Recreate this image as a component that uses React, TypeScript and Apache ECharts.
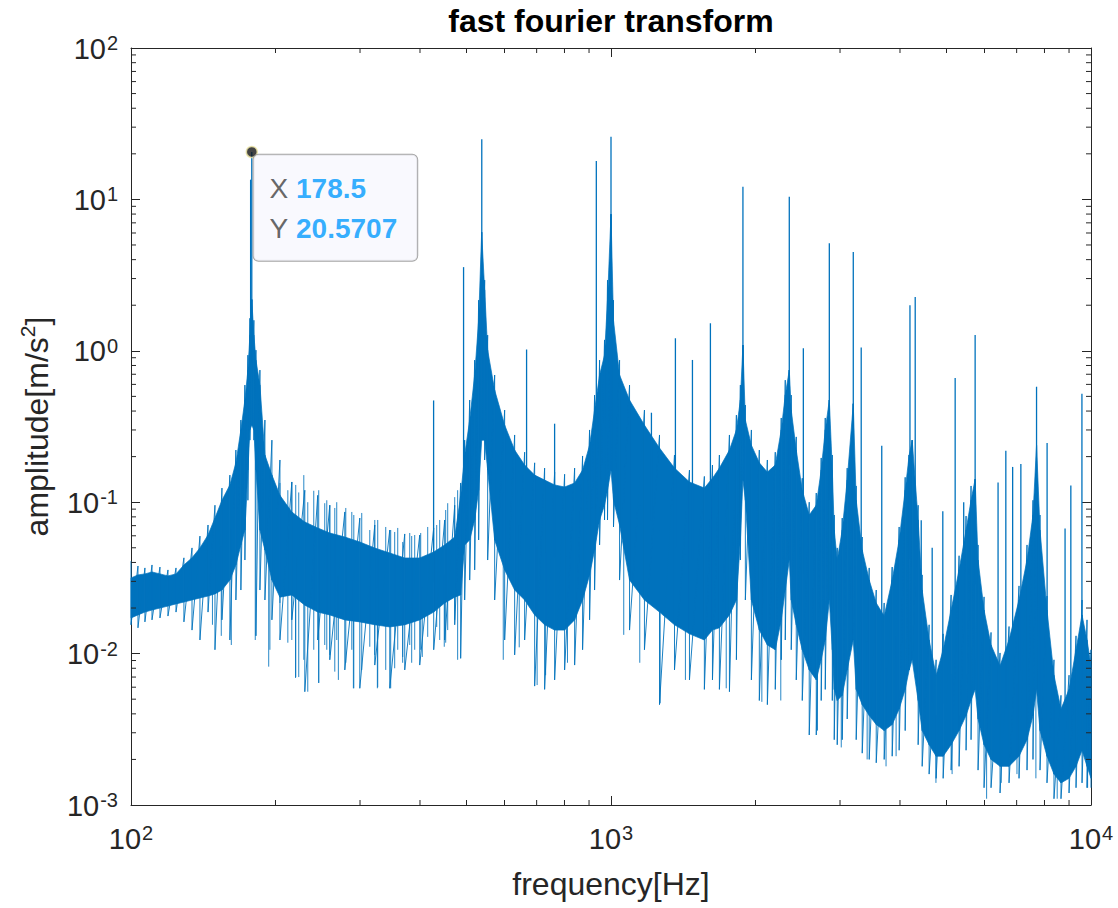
import React, { useEffect, useRef } from "react";
import * as echarts from "echarts";

// ---- data ----
// dense core of the spectrum: frequency [Hz], upper / lower edge of the solid band [m/s^2]
const bandFreq = [100, 103.4, 106.9, 110.6, 114.9, 119.4, 124.1, 128.9, 134.0, 139.2, 144.7, 149.6, 154.7, 160.7, 165.4, 169.4, 172.7, 175.2, 176.9, 178.5, 180.3, 182.1, 185.6, 190.1, 196.6, 204.3, 216.3, 230.2, 244.9, 259.5, 278.9, 299.7, 322.0, 346.0, 371.8, 399.5, 427.2, 450.3, 472.5, 486.2, 495.6, 507.7, 520.0, 530.0, 537.7, 545.5, 553.4, 572.3, 600.4, 629.9, 660.8, 693.3, 727.3, 763.1, 800.5, 839.9, 872.6, 902.4, 924.3, 946.7, 969.4, 983.4, 1000, 1012, 1042, 1093, 1174, 1262, 1356, 1457, 1565, 1627, 1682, 1765, 1825, 1860, 1883, 1905, 1961, 2037, 2117, 2199, 2263, 2307, 2352, 2374, 2432, 2503, 2588, 2677, 2741, 2795, 2850, 2891, 2918, 2960, 3032, 3105, 3197, 3242, 3337, 3451, 3569, 3708, 3853, 3984, 4101, 4180, 4241, 4364, 4449, 4600, 4757, 4920, 5112, 5311, 5492, 5625, 5736, 5817, 5987, 6191, 6464, 6749, 7080, 7357, 7571, 7701, 7830, 8097, 8373, 8659, 9000, 9307, 9579, 9811, 10000];
const bandTop = [0.0316, 0.0331, 0.0336, 0.0346, 0.0336, 0.0326, 0.0336, 0.0385, 0.0429, 0.0499, 0.0607, 0.0786, 0.103, 0.130, 0.182, 0.300, 0.473, 0.746, 1.27, 2.18, 1.27, 0.868, 0.594, 0.205, 0.151, 0.111, 0.0862, 0.0740, 0.0676, 0.0626, 0.0589, 0.0546, 0.0498, 0.0462, 0.0428, 0.0428, 0.0469, 0.0522, 0.0589, 0.110, 0.205, 0.349, 0.692, 1.59, 6.07, 2.52, 1.01, 0.550, 0.323, 0.221, 0.176, 0.151, 0.140, 0.130, 0.126, 0.134, 0.163, 0.238, 0.406, 0.692, 0.936, 2.16, 7.98, 1.59, 0.692, 0.473, 0.323, 0.228, 0.168, 0.136, 0.124, 0.144, 0.168, 0.221, 0.300, 0.473, 1.09, 0.349, 0.238, 0.182, 0.158, 0.176, 0.300, 0.510, 0.746, 0.406, 0.221, 0.120, 0.0823, 0.0955, 0.163, 0.300, 0.473, 0.163, 0.0655, 0.0415, 0.0655, 0.140, 0.447, 0.103, 0.0484, 0.0306, 0.0216, 0.0177, 0.0306, 0.0563, 0.120, 0.205, 0.257, 0.0763, 0.0263, 0.0123, 0.0072, 0.0106, 0.0194, 0.0357, 0.0655, 0.103, 0.142, 0.0415, 0.0194, 0.0114, 0.0083, 0.0123, 0.0226, 0.0415, 0.0823, 0.238, 0.0655, 0.0194, 0.0072, 0.0043, 0.0058, 0.0106, 0.0180, 0.0123, 0.0083];
const bandBottom = [0.0172, 0.0180, 0.0188, 0.0194, 0.0200, 0.0206, 0.0213, 0.0219, 0.0226, 0.0233, 0.0240, 0.0248, 0.0263, 0.0306, 0.0385, 0.0522, 0.0655, 0.163, 0.300, 0.323, 0.300, 0.163, 0.0655, 0.0484, 0.0306, 0.0236, 0.0244, 0.0209, 0.0188, 0.0180, 0.0167, 0.0162, 0.0155, 0.0150, 0.0155, 0.0167, 0.0188, 0.0216, 0.0236, 0.0244, 0.0522, 0.0563, 0.0763, 0.120, 0.257, 0.257, 0.163, 0.0563, 0.0357, 0.0263, 0.0226, 0.0180, 0.0155, 0.0143, 0.0143, 0.0167, 0.0226, 0.0331, 0.0484, 0.0763, 0.0955, 0.120, 0.163, 0.103, 0.0707, 0.0306, 0.0226, 0.0188, 0.0155, 0.0135, 0.0123, 0.0143, 0.0148, 0.0180, 0.0226, 0.0563, 0.140, 0.103, 0.0226, 0.0143, 0.0114, 0.0106, 0.0167, 0.0263, 0.0415, 0.0226, 0.0155, 0.0106, 0.0078, 0.0067, 0.0091, 0.0123, 0.0226, 0.0106, 0.0058, 0.0049, 0.0053, 0.0078, 0.0123, 0.0058, 0.0046, 0.0039, 0.0034, 0.0031, 0.0034, 0.0043, 0.0058, 0.0078, 0.0091, 0.0049, 0.0031, 0.0025, 0.0021, 0.0021, 0.0025, 0.0031, 0.0039, 0.0049, 0.0058, 0.0037, 0.0025, 0.0020, 0.0018, 0.0018, 0.0021, 0.0027, 0.0039, 0.0058, 0.0031, 0.0021, 0.0016, 0.0014, 0.0015, 0.0018, 0.0023, 0.0018, 0.0015];
// extremes of the noisy trace at the same frequencies (upper tips / lower tips)
const traceHigh = [0.0408, 0.0379, 0.0368, 0.0385, 0.0373, 0.0357, 0.0368, 0.0429, 0.0499, 0.0597, 0.0707, 0.0955, 0.124, 0.151, 0.221, 0.349, 0.594, 0.936, 1.64, 2.18, 1.59, 1.01, 0.746, 0.349, 0.257, 0.190, 0.136, 0.120, 0.111, 0.0955, 0.0862, 0.0786, 0.0707, 0.0655, 0.0617, 0.0607, 0.0676, 0.0763, 0.0955, 0.134, 0.257, 0.473, 0.868, 2.16, 6.07, 2.93, 1.27, 0.692, 0.406, 0.278, 0.214, 0.182, 0.168, 0.158, 0.153, 0.168, 0.202, 0.300, 0.510, 0.868, 1.18, 2.93, 7.98, 2.16, 0.868, 0.594, 0.406, 0.278, 0.205, 0.163, 0.148, 0.176, 0.205, 0.278, 0.376, 0.594, 1.09, 0.438, 0.300, 0.221, 0.190, 0.214, 0.360, 0.640, 0.746, 0.510, 0.270, 0.144, 0.100, 0.115, 0.196, 0.360, 0.473, 0.205, 0.0823, 0.0499, 0.0786, 0.168, 0.447, 0.128, 0.0589, 0.0368, 0.0263, 0.0216, 0.0373, 0.0686, 0.146, 0.205, 0.257, 0.0955, 0.0331, 0.0155, 0.0091, 0.0135, 0.0244, 0.0443, 0.0810, 0.128, 0.142, 0.0522, 0.0237, 0.0138, 0.0101, 0.0151, 0.0280, 0.0522, 0.103, 0.238, 0.0823, 0.0240, 0.0091, 0.0053, 0.0072, 0.0131, 0.0226, 0.0167, 0.0106];
const traceLow = [0.0155, 0.0148, 0.0162, 0.0167, 0.0172, 0.0177, 0.0188, 0.0162, 0.0143, 0.0123, 0.0188, 0.0106, 0.0167, 0.0123, 0.0226, 0.0263, 0.0415, 0.103, 0.257, 0.323, 0.257, 0.0131, 0.0263, 0.0226, 0.0167, 0.0123, 0.0167, 0.0056, 0.0123, 0.0091, 0.0078, 0.0059, 0.0084, 0.0059, 0.0078, 0.0084, 0.0106, 0.0123, 0.0155, 0.0093, 0.0226, 0.0306, 0.0357, 0.0563, 0.257, 0.190, 0.0415, 0.0226, 0.0123, 0.0098, 0.0123, 0.0061, 0.0058, 0.0067, 0.0078, 0.0084, 0.0106, 0.0167, 0.0263, 0.0522, 0.0763, 0.0763, 0.163, 0.0686, 0.0306, 0.0143, 0.0106, 0.0046, 0.0078, 0.0067, 0.0058, 0.0067, 0.0058, 0.0056, 0.0091, 0.0415, 0.140, 0.0226, 0.0067, 0.0049, 0.0046, 0.0058, 0.0091, 0.0123, 0.0415, 0.0106, 0.0067, 0.0049, 0.0029, 0.0029, 0.0049, 0.0058, 0.0226, 0.0049, 0.0027, 0.0025, 0.0027, 0.0037, 0.0123, 0.0027, 0.0022, 0.0020, 0.0019, 0.0020, 0.0021, 0.0023, 0.0031, 0.0078, 0.0091, 0.0025, 0.0018, 0.0016, 0.0015, 0.0015, 0.0017, 0.0018, 0.0023, 0.0027, 0.0058, 0.0017, 0.0013, 0.0013, 0.0012, 0.0014, 0.0015, 0.0017, 0.0020, 0.0058, 0.0017, 0.0014, 0.0011, 0.0011, 0.0012, 0.0013, 0.0014, 0.0013, 0.0013];
// individual noise strokes in the 190-480 Hz trough: frequency, upper tip, lower tip
const hairFreq = [194.7, 204.3, 212.2, 216.3, 220.4, 223.6, 229.1, 233.5, 240.3, 246.1, 253.3, 255.8, 259.5, 265.8, 268.3, 280.2, 288.4, 291.2, 302.5, 314.4, 322.0, 326.6, 339.4, 347.6, 354.3, 359.5, 368.2, 380.8, 384.4, 390.0, 401.4, 415.1, 433.4, 439.7, 452.5, 456.9, 472.5, 479.2];
const hairHigh = [0.156, 0.134, 0.120, 0.136, 0.130, 0.116, 0.151, 0.100, 0.119, 0.120, 0.0985, 0.103, 0.0955, 0.0916, 0.100, 0.0916, 0.0862, 0.0823, 0.0849, 0.0655, 0.0763, 0.0763, 0.0686, 0.0655, 0.0636, 0.0676, 0.0546, 0.0626, 0.0598, 0.0607, 0.0626, 0.0686, 0.0707, 0.0763, 0.0888, 0.0985, 0.108, 0.120];
const hairLow = [0.0106, 0.0216, 0.0118, 0.0123, 0.0070, 0.0070, 0.0091, 0.0056, 0.0106, 0.0064, 0.0114, 0.0106, 0.0098, 0.0076, 0.0123, 0.0087, 0.0106, 0.0059, 0.0078, 0.0111, 0.0098, 0.0060, 0.0078, 0.0059, 0.0080, 0.0106, 0.0095, 0.0114, 0.0087, 0.0106, 0.0106, 0.0129, 0.0150, 0.0123, 0.0118, 0.0143, 0.0167, 0.0091];
// narrow spectral lines rising above the band
const spikeFreq = [177.5, 178.5, 427, 493, 538, 667, 763, 932, 1000, 1214, 1362, 1478, 1611, 1883, 2352, 2516, 2850, 3197, 3321, 3665, 4196, 4303, 4429, 4668, 4912, 5212, 5430, 5736, 6403, 6646, 6867, 7143, 7701, 8101, 8830, 9078, 9574];
const spikeAmp = [13.5, 20.5707, 0.47, 3.57, 25.0, 1.02, 0.33, 17.9, 25.9, 0.39, 1.21, 0.87, 1.52, 12.1, 10.4, 1.04, 5.14, 4.50, 1.05, 0.236, 2.00, 2.27, 0.076, 0.050, 0.087, 0.66, 0.100, 1.27, 0.135, 0.219, 0.171, 0.179, 0.579, 0.246, 0.067, 0.129, 0.52];
// deep single dips below the band
const dipFreq = [147.8, 154.2, 161.8, 181.5, 193.6, 220.2, 246.1, 270.4, 290.6, 326.0, 368.1, 404.4, 449.4, 596.4, 643.9, 701.6, 730.8, 811.6, 1063, 1148, 1266, 1429, 1738, 2062, 2258, 2693, 3018, 3417, 3741, 3926, 4753, 5136, 6061, 6500, 7011, 7677, 8503, 9839];
const dipAmp = [0.0155, 0.0131, 0.0114, 0.0123, 0.0082, 0.0069, 0.0064, 0.0067, 0.0059, 0.0059, 0.0087, 0.0095, 0.0111, 0.0091, 0.0110, 0.0062, 0.0072, 0.0087, 0.0133, 0.0087, 0.0047, 0.0067, 0.0059, 0.0048, 0.0049, 0.0031, 0.0024, 0.0020, 0.0018, 0.0021, 0.0014, 0.0016, 0.0011, 0.0014, 0.0016, 0.0015, 0.0011, 0.0013];
// data tip
const tipPoint = [178.5, 20.5707];
// axes
const titleText = "fast fourier transform";
const xRange = [100, 10000];
const yRange = [0.001, 100];
const xMinorTicks = [200, 300, 400, 500, 600, 700, 800, 900, 2000, 3000, 4000, 5000, 6000, 7000, 8000, 9000];
const yMinorTicks = [0.002, 0.003, 0.004, 0.005, 0.006, 0.007, 0.008, 0.009, 0.02, 0.03, 0.04, 0.05, 0.06, 0.07, 0.08, 0.09, 0.2, 0.3, 0.4, 0.5, 0.6, 0.7, 0.8, 0.9, 2, 3, 4, 5, 6, 7, 8, 9, 20, 30, 40, 50, 60, 70, 80, 90];

const BLUE = "#0072BD";
const AXIS = "#262626";
const FONT = "'Liberation Sans', Arial, Helvetica, sans-serif";

function bandAt(f: number) {
  const lf = Math.log10(f);
  for (let i = 0; i < bandFreq.length - 1; i++) {
    const a = Math.log10(bandFreq[i]);
    const b = Math.log10(bandFreq[i + 1]);
    if (lf >= a && lf <= b) {
      const t = b === a ? 0 : (lf - a) / (b - a);
      const top = Math.pow(10, Math.log10(bandTop[i]) * (1 - t) + Math.log10(bandTop[i + 1]) * t);
      const bot = Math.pow(10, Math.log10(bandBottom[i]) * (1 - t) + Math.log10(bandBottom[i + 1]) * t);
      return { top, bot };
    }
  }
  return { top: bandTop[bandTop.length - 1], bot: bandBottom[bandBottom.length - 1] };
}

const tickLabel = {
  color: AXIS,
  fontFamily: FONT,
  formatter: (v: number) => `{b|10}{s|${Math.round(Math.log10(v))}}`,
  rich: {
    b: { fontSize: 29, fontFamily: FONT, color: AXIS, lineHeight: 30, padding: [6, 0, 0, 0], verticalAlign: "bottom" },
    s: { fontSize: 20, fontFamily: FONT, color: AXIS, lineHeight: 20, verticalAlign: "top", padding: [0, 0, 0, 1] },
  },
};

function verticalStroke(api: any, f: number, a: number, b: number, width: number, opacity: number) {
  const p1 = api.coord([f, a]);
  const p2 = api.coord([f, b]);
  return {
    type: "line",
    shape: { x1: p1[0], y1: p1[1], x2: p2[0], y2: p2[1] },
    style: { stroke: BLUE, lineWidth: width, opacity },
  };
}

export default function App() {
  const ref = useRef<HTMLDivElement>(null);
  useEffect(() => {
    if (!ref.current) return;
    const chart = echarts.init(ref.current, null, { renderer: "svg" });

    const trace: number[][] = [];
    bandFreq.forEach((f, i) => {
      trace.push([f, traceHigh[i]]);
      trace.push([f, traceLow[i]]);
    });

    const axisCommon = {
      type: "log" as const,
      logBase: 10,
      axisLine: { show: true, onZero: false, lineStyle: { color: AXIS, width: 1 } },
      axisTick: { show: true, inside: true, length: 9, lineStyle: { color: AXIS, width: 1 } },
      splitLine: { show: false },
      minorTick: { show: false },
    };

    const option: any = {
      animation: false,
      backgroundColor: "#ffffff",
      graphic: [
        {
          type: "text",
          x: 611,
          y: 5,
          silent: true,
          style: {
            text: titleText,
            fill: "#000",
            font: `bold 32px ${FONT}`,
            align: "center",
            verticalAlign: "top",
            textAlign: "center",
            textVerticalAlign: "top",
          },
        },
      ],
      grid: { left: 131, right: 27, top: 48, bottom: 103, containLabel: false },
      xAxis: [
        {
          ...axisCommon,
          min: xRange[0],
          max: xRange[1],
          position: "bottom",
          axisLabel: { ...tickLabel, margin: 18 },
          name: "frequency[Hz]",
          nameLocation: "middle",
          nameGap: 63,
          nameTextStyle: { fontSize: 32, color: AXIS, fontFamily: FONT },
        },
        {
          ...axisCommon,
          min: xRange[0],
          max: xRange[1],
          position: "top",
          axisLabel: { show: false },
        },
      ],
      yAxis: [
        {
          ...axisCommon,
          min: yRange[0],
          max: yRange[1],
          position: "left",
          axisLabel: { ...tickLabel, margin: 13 },
          name: "{n|amplitude[m/s}{s|2}{n|]}",
          nameLocation: "middle",
          nameGap: 78,
          nameTextStyle: {
            rich: {
              n: { fontSize: 32, color: AXIS, fontFamily: FONT, lineHeight: 36, verticalAlign: "bottom" },
              s: { fontSize: 21, color: AXIS, fontFamily: FONT, lineHeight: 22, verticalAlign: "top" },
            },
          },
        },
        {
          ...axisCommon,
          min: yRange[0],
          max: yRange[1],
          position: "right",
          axisLabel: { show: false },
        },
      ],
      series: [
        {
          type: "custom",
          name: "band",
          silent: true,
          data: bandFreq.map((f, i) => [f, bandTop[i], bandBottom[i]]),
          encode: { x: 0, y: [1, 2] },
          renderItem: (params: any, api: any) => {
            const i = params.dataIndex;
            if (i >= bandFreq.length - 1) return null;
            const p1 = api.coord([bandFreq[i], bandTop[i]]);
            const p2 = api.coord([bandFreq[i + 1], bandTop[i + 1]]);
            const p3 = api.coord([bandFreq[i + 1], bandBottom[i + 1]]);
            const p4 = api.coord([bandFreq[i], bandBottom[i]]);
            return {
              type: "polygon",
              shape: { points: [p1, p2, p3, p4] },
              style: { fill: BLUE, stroke: BLUE, lineWidth: 0.7 },
            };
          },
          z: 2,
        },
        {
          type: "line",
          name: "trace",
          silent: true,
          data: trace,
          symbol: "none",
          lineStyle: { color: BLUE, width: 1, opacity: 0.9 },
          z: 3,
        },
        {
          type: "custom",
          name: "hairs",
          silent: true,
          data: hairFreq.map((f, i) => [f, hairHigh[i], hairLow[i]]),
          encode: { x: 0, y: [1, 2] },
          renderItem: (params: any, api: any) =>
            verticalStroke(api, api.value(0), api.value(1), api.value(2), 1, 0.85),
          z: 3,
        },
        {
          type: "custom",
          name: "spikes",
          silent: true,
          data: spikeFreq.map((f, i) => [f, spikeAmp[i]]),
          encode: { x: 0, y: 1 },
          renderItem: (params: any, api: any) => {
            const f = api.value(0);
            const b = bandAt(f);
            return verticalStroke(api, f, api.value(1), Math.sqrt(b.top * b.bot), 1.3, 1);
          },
          z: 4,
        },
        {
          type: "custom",
          name: "dips",
          silent: true,
          data: dipFreq.map((f, i) => [f, dipAmp[i]]),
          encode: { x: 0, y: 1 },
          renderItem: (params: any, api: any) => {
            const f = api.value(0);
            const b = bandAt(f);
            return verticalStroke(api, f, api.value(1), Math.sqrt(b.top * b.bot), 1, 0.85);
          },
          z: 4,
        },
        {
          type: "custom",
          name: "xminor",
          silent: true,
          clip: false,
          data: xMinorTicks.map((v) => [v, yRange[0]]),
          encode: { x: 0, y: 1 },
          renderItem: (params: any, api: any) => {
            const cs = params.coordSys;
            const x = api.coord([api.value(0), yRange[0]])[0];
            const top = cs.y;
            const bottom = cs.y + cs.height;
            return {
              type: "group",
              children: [
                { type: "line", shape: { x1: x, y1: bottom, x2: x, y2: bottom - 5 }, style: { stroke: AXIS, lineWidth: 1 } },
                { type: "line", shape: { x1: x, y1: top, x2: x, y2: top + 5 }, style: { stroke: AXIS, lineWidth: 1 } },
              ],
            };
          },
          z: 6,
        },
        {
          type: "custom",
          name: "yminor",
          silent: true,
          clip: false,
          data: yMinorTicks.map((v) => [xRange[0], v]),
          encode: { x: 0, y: 1 },
          renderItem: (params: any, api: any) => {
            const cs = params.coordSys;
            const y = api.coord([xRange[0], api.value(1)])[1];
            const left = cs.x;
            const right = cs.x + cs.width;
            return {
              type: "group",
              children: [
                { type: "line", shape: { x1: left, y1: y, x2: left + 5, y2: y }, style: { stroke: AXIS, lineWidth: 1 } },
                { type: "line", shape: { x1: right, y1: y, x2: right - 5, y2: y }, style: { stroke: AXIS, lineWidth: 1 } },
              ],
            };
          },
          z: 6,
        },
        {
          type: "scatter",
          name: "datatip",
          silent: true,
          data: [tipPoint],
          symbol: "circle",
          symbolSize: 11,
          itemStyle: { color: "#141414", borderColor: "#efe7a8", borderWidth: 1.5 },
          label: {
            show: true,
            position: [8, 9],
            align: "left",
            verticalAlign: "top",
            formatter: (p: any) => `{k|X }{v|${p.value[0]}}\n{k|Y }{v|${p.value[1]}}`,
            backgroundColor: "#f8f8fe",
            borderColor: "#8f8f8f",
            borderWidth: 1,
            borderRadius: 5,
            padding: [14, 20, 12, 16],
            rich: {
              k: { fontSize: 28, color: "#404040", fontFamily: FONT, lineHeight: 40 },
              v: { fontSize: 28, color: "#0099ff", fontWeight: "bold", fontFamily: FONT, lineHeight: 40 },
            },
          },
          z: 10,
        },
      ],
    };

    chart.setOption(option);
    return () => chart.dispose();
  }, []);

  return (
    <div
      ref={ref}
      style={{ position: "absolute", left: 0, top: 0, width: 1118, height: 908, background: "#fff" }}
    />
  );
}
